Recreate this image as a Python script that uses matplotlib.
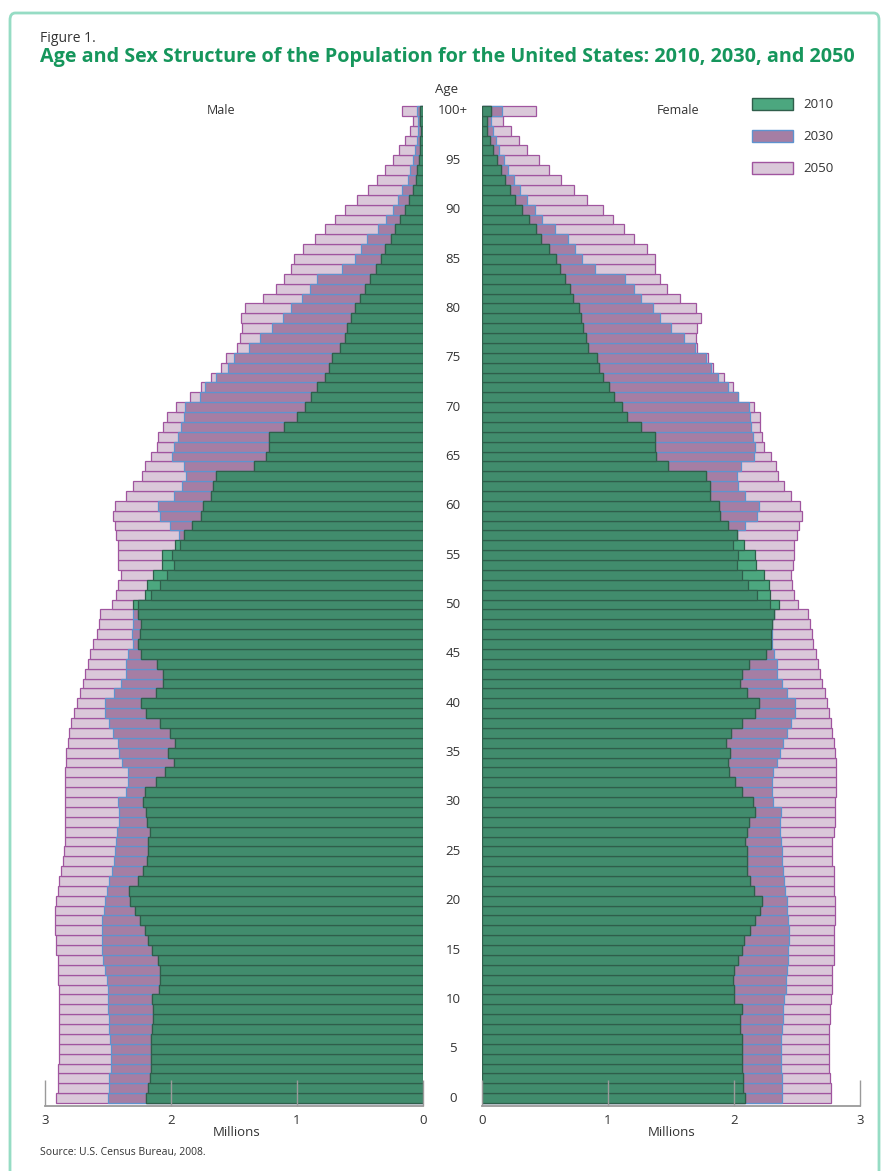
import matplotlib
matplotlib.use("Agg")
import matplotlib.pyplot as plt
from matplotlib import font_manager
from matplotlib.transforms import blended_transform_factory
from matplotlib.patches import Rectangle, FancyBboxPatch
import numpy as np

# ---------------- data (millions) ----------------
ages = list(range(0, 101))
age_labels = [str(a) for a in range(0, 100, 5)] + ["100+"]
age_label_pos = list(range(0, 101, 5))
years = ["2010", "2030", "2050"]

male_2010 = [2.20, 2.18, 2.17, 2.16, 2.16, 2.16, 2.16, 2.15, 2.145, 2.14,
             2.15, 2.095, 2.085, 2.085, 2.10, 2.15, 2.18, 2.21, 2.25, 2.285,
             2.325, 2.33, 2.26, 2.22, 2.19, 2.18, 2.18, 2.17, 2.19, 2.195,
             2.22, 2.205, 2.12, 2.05, 1.98, 2.02, 1.97, 2.005, 2.085, 2.195,
             2.24, 2.12, 2.06, 2.06, 2.11, 2.24, 2.26, 2.245, 2.24, 2.26,
             2.30, 2.205, 2.19, 2.14, 2.07, 2.07, 1.965, 1.90, 1.83, 1.76,
             1.75, 1.68, 1.67, 1.64, 1.34, 1.245, 1.22, 1.22, 1.10, 1.00,
             0.94, 0.89, 0.845, 0.78, 0.75, 0.72, 0.66, 0.62, 0.60, 0.57,
             0.54, 0.50, 0.46, 0.42, 0.37, 0.336, 0.30, 0.256, 0.22, 0.18,
             0.14, 0.11, 0.083, 0.056, 0.045, 0.03, 0.024, 0.02, 0.016, 0.02, 0.02]
male_2030 = [2.50, 2.49, 2.49, 2.48, 2.48, 2.48, 2.485, 2.49, 2.49, 2.50,
             2.50, 2.50, 2.51, 2.52, 2.54, 2.545, 2.55, 2.55, 2.545, 2.535,
             2.52, 2.51, 2.49, 2.47, 2.455, 2.445, 2.44, 2.43, 2.41, 2.41,
             2.42, 2.355, 2.34, 2.34, 2.39, 2.41, 2.42, 2.46, 2.49, 2.525,
             2.525, 2.45, 2.40, 2.36, 2.36, 2.34, 2.30, 2.31, 2.30, 2.30,
             2.26, 2.16, 2.09, 2.03, 1.98, 1.99, 1.93, 1.94, 2.005, 2.085,
             2.10, 1.98, 1.91, 1.88, 1.90, 1.99, 1.98, 1.945, 1.92, 1.90,
             1.89, 1.77, 1.73, 1.64, 1.55, 1.50, 1.38, 1.29, 1.20, 1.11,
             1.05, 0.96, 0.90, 0.84, 0.64, 0.54, 0.49, 0.445, 0.36, 0.29,
             0.24, 0.20, 0.165, 0.12, 0.10, 0.077, 0.06, 0.05, 0.043, 0.043, 0.05]
male_2050 = [2.91, 2.90, 2.90, 2.895, 2.89, 2.885, 2.885, 2.885, 2.885, 2.885,
             2.89, 2.89, 2.895, 2.90, 2.90, 2.91, 2.91, 2.92, 2.92, 2.92,
             2.91, 2.90, 2.885, 2.87, 2.86, 2.85, 2.845, 2.84, 2.84, 2.84,
             2.84, 2.84, 2.84, 2.84, 2.835, 2.83, 2.82, 2.81, 2.79, 2.77,
             2.75, 2.725, 2.70, 2.685, 2.66, 2.64, 2.62, 2.59, 2.57, 2.56,
             2.47, 2.44, 2.42, 2.40, 2.42, 2.42, 2.42, 2.44, 2.445, 2.46,
             2.445, 2.36, 2.30, 2.23, 2.205, 2.16, 2.11, 2.10, 2.06, 2.03,
             1.96, 1.85, 1.76, 1.68, 1.60, 1.565, 1.48, 1.45, 1.44, 1.445,
             1.41, 1.27, 1.17, 1.10, 1.045, 1.02, 0.95, 0.86, 0.78, 0.70,
             0.62, 0.52, 0.44, 0.365, 0.30, 0.24, 0.19, 0.14, 0.10, 0.077, 0.17]

female_2010 = [2.09, 2.07, 2.07, 2.065, 2.065, 2.06, 2.06, 2.05, 2.05, 2.06,
               2.00, 2.00, 1.99, 2.00, 2.035, 2.06, 2.08, 2.13, 2.17, 2.21,
               2.22, 2.16, 2.13, 2.10, 2.10, 2.10, 2.09, 2.10, 2.12, 2.17,
               2.15, 2.06, 2.01, 1.96, 1.95, 1.97, 1.94, 1.975, 2.06, 2.17,
               2.20, 2.10, 2.05, 2.06, 2.12, 2.25, 2.29, 2.295, 2.30, 2.32,
               2.36, 2.285, 2.28, 2.24, 2.175, 2.17, 2.08, 2.02, 1.955, 1.89,
               1.88, 1.81, 1.81, 1.78, 1.48, 1.38, 1.37, 1.37, 1.26, 1.15,
               1.11, 1.05, 1.01, 0.96, 0.93, 0.91, 0.845, 0.825, 0.80, 0.785,
               0.77, 0.725, 0.70, 0.66, 0.62, 0.59, 0.53, 0.47, 0.43, 0.37,
               0.32, 0.26, 0.22, 0.18, 0.148, 0.116, 0.09, 0.06, 0.04, 0.037, 0.07]
female_2030 = [2.38, 2.38, 2.38, 2.37, 2.37, 2.37, 2.37, 2.38, 2.385, 2.39,
               2.40, 2.41, 2.41, 2.42, 2.43, 2.43, 2.44, 2.44, 2.43, 2.42,
               2.42, 2.405, 2.40, 2.385, 2.38, 2.38, 2.37, 2.365, 2.365, 2.37,
               2.31, 2.30, 2.30, 2.31, 2.345, 2.365, 2.39, 2.42, 2.45, 2.485,
               2.485, 2.42, 2.38, 2.345, 2.34, 2.32, 2.30, 2.30, 2.30, 2.32,
               2.285, 2.185, 2.11, 2.06, 2.02, 2.03, 1.995, 2.02, 2.09, 2.185,
               2.20, 2.09, 2.03, 2.02, 2.055, 2.16, 2.17, 2.15, 2.135, 2.13,
               2.12, 2.03, 1.955, 1.875, 1.82, 1.78, 1.69, 1.60, 1.50, 1.41,
               1.355, 1.26, 1.21, 1.135, 0.90, 0.79, 0.74, 0.685, 0.58, 0.48,
               0.42, 0.355, 0.30, 0.25, 0.21, 0.177, 0.135, 0.11, 0.085, 0.07, 0.16]
female_2050 = [2.77, 2.77, 2.76, 2.755, 2.755, 2.75, 2.75, 2.755, 2.76, 2.76,
               2.77, 2.775, 2.78, 2.78, 2.79, 2.79, 2.79, 2.79, 2.80, 2.80,
               2.80, 2.79, 2.79, 2.79, 2.78, 2.78, 2.78, 2.79, 2.80, 2.80,
               2.80, 2.81, 2.81, 2.81, 2.81, 2.80, 2.79, 2.78, 2.77, 2.755,
               2.735, 2.72, 2.695, 2.68, 2.67, 2.65, 2.63, 2.62, 2.60, 2.59,
               2.51, 2.48, 2.46, 2.45, 2.465, 2.48, 2.48, 2.50, 2.515, 2.54,
               2.52, 2.45, 2.40, 2.35, 2.33, 2.29, 2.24, 2.22, 2.21, 2.21,
               2.16, 2.03, 1.995, 1.92, 1.835, 1.79, 1.71, 1.695, 1.71, 1.74,
               1.70, 1.57, 1.47, 1.41, 1.37, 1.37, 1.31, 1.21, 1.13, 1.04,
               0.96, 0.83, 0.73, 0.63, 0.53, 0.45, 0.36, 0.29, 0.23, 0.17, 0.43]

x_ticks = [0, 1, 2, 3]

# ---------------- styles ----------------
def have_font(name):
    try:
        font_manager.findfont(font_manager.FontProperties(family=name), fallback_to_default=False)
        return True
    except Exception:
        return False

body_font = "Open Sans" if have_font("Open Sans") else "DejaVu Sans"
title_font = "Liberation Sans Narrow" if have_font("Liberation Sans Narrow") else body_font
plt.rcParams["font.family"] = [body_font, "DejaVu Sans"]

C_PINK, E_PINK = "#dac8d9", "#a0559f"
C_PURP, E_PURP = "#a57ea4", "#5e93cf"
C_GRN_L, C_GRN, E_GRN = "#4ca77f", "#418c6d", "#2f5e4b"
TEXT = "#333333"
TITLE_GREEN = "#16965c"
AX_GRAY = "#9a9a9a"

W, H = 884, 1171
fig = plt.figure(figsize=(W / 100, H / 100), dpi=100)
fig.patch.set_facecolor("white")

def fx(px):
    return px / W

def fy(py):
    return 1 - py / H

# border
border = FancyBboxPatch((fx(10), fy(1180)), fx(869), fy(13) - fy(1180),
                        boxstyle="round,pad=0,rounding_size=0.006",
                        transform=fig.transFigure, facecolor="none",
                        edgecolor="#96dcc4", linewidth=2.0)
fig.patches.append(border)

ax_bottom_px, ax_top_px = 1106, 105
y_lo, y_hi = -0.8, 100.6
axL = fig.add_axes([fx(45), fy(ax_bottom_px), fx(423) - fx(45), fy(ax_top_px) - fy(ax_bottom_px)])
axR = fig.add_axes([fx(482), fy(ax_bottom_px), fx(860) - fx(482), fy(ax_top_px) - fy(ax_bottom_px)])

def draw_side(ax, v10, v30, v50):
    y = np.array(ages)
    v10 = np.array(v10); v30 = np.array(v30); v50 = np.array(v50)
    ax.barh(y, v50, height=1.0, color=C_PINK, edgecolor=E_PINK, linewidth=0.9, zorder=1)
    ax.barh(y, v30, height=1.0, color=C_PURP, edgecolor=E_PURP, linewidth=0.9, zorder=1.1)
    ax.barh(y, v10, height=1.0, color=C_GRN_L, edgecolor=E_GRN, linewidth=0.9, zorder=1.2)
    ax.barh(y, np.minimum(v10, v30), height=1.0, color=C_GRN, edgecolor=E_GRN, linewidth=0.9, zorder=1.3)
    ax.set_ylim(y_lo, y_hi)
    ax.set_yticks([])
    for s in ["top", "left", "right"]:
        ax.spines[s].set_visible(False)
    ax.spines["bottom"].set_color(AX_GRAY)
    ax.spines["bottom"].set_linewidth(1.3)
    ax.set_xticks(x_ticks)
    ax.set_xticklabels([str(t) for t in x_ticks])
    ax.tick_params(axis="x", direction="in", length=19, width=1.0, color=AX_GRAY,
                   labelsize=9.5, labelcolor=TEXT, pad=6)
    ax.set_facecolor("none")

draw_side(axL, male_2010, male_2030, male_2050)
axL.set_xlim(3, 0)
draw_side(axR, female_2010, female_2030, female_2050)
axR.set_xlim(0, 3)

# age labels in the middle
tr = blended_transform_factory(fig.transFigure, axR.transData)
for pos, lab in zip(age_label_pos, age_labels):
    axR.text(fx(453), pos, lab, transform=tr, ha="center", va="center",
             fontsize=9.5, color=TEXT, clip_on=False)
fig.text(fx(447), fy(90), "Age", ha="center", va="center", fontsize=9.5, color=TEXT)

# sex labels
fig.text(fx(221), fy(111), "Male", ha="center", va="center", fontsize=9, color=TEXT)
fig.text(fx(678), fy(111), "Female", ha="center", va="center", fontsize=9, color=TEXT)

# legend
leg_items = [(C_GRN_L, E_GRN), (C_PURP, E_PURP), (C_PINK, E_PINK)]
for i, (yr, (fc, ec)) in enumerate(zip(years, leg_items)):
    yc = 104 + i * 32
    fig.patches.append(Rectangle((fx(752), fy(yc + 6)), fx(793) - fx(752), fy(yc - 6) - fy(yc + 6),
                                 transform=fig.transFigure, facecolor=fc, edgecolor=ec, linewidth=1.0))
    fig.text(fx(803), fy(yc), yr, ha="left", va="center", fontsize=9.5, color=TEXT)

# Millions
fig.text(fx(237), fy(1133), "Millions", ha="center", va="center", fontsize=9.5, color=TEXT)
fig.text(fx(672), fy(1133), "Millions", ha="center", va="center", fontsize=9.5, color=TEXT)

# titles
fig.text(fx(40), fy(38), "Figure 1.", ha="left", va="center", fontsize=10, color=TEXT)
t = fig.text(fx(40), fy(57), "Age and Sex Structure of the Population for the United States: 2010, 2030, and 2050",
             ha="left", va="center", fontsize=13, fontweight="bold", color=TITLE_GREEN,
             family=[title_font, "DejaVu Sans"])
fig.canvas.draw()
bb = t.get_window_extent(renderer=fig.canvas.get_renderer())
target = 850 - 40
t.set_fontsize(13 * target / bb.width)

fig.text(fx(40), fy(1153), "Source: U.S. Census Bureau, 2008.", ha="left", va="center",
         fontsize=7.5, color=TEXT)

fig.savefig("out.png", dpi=100, facecolor="white")
